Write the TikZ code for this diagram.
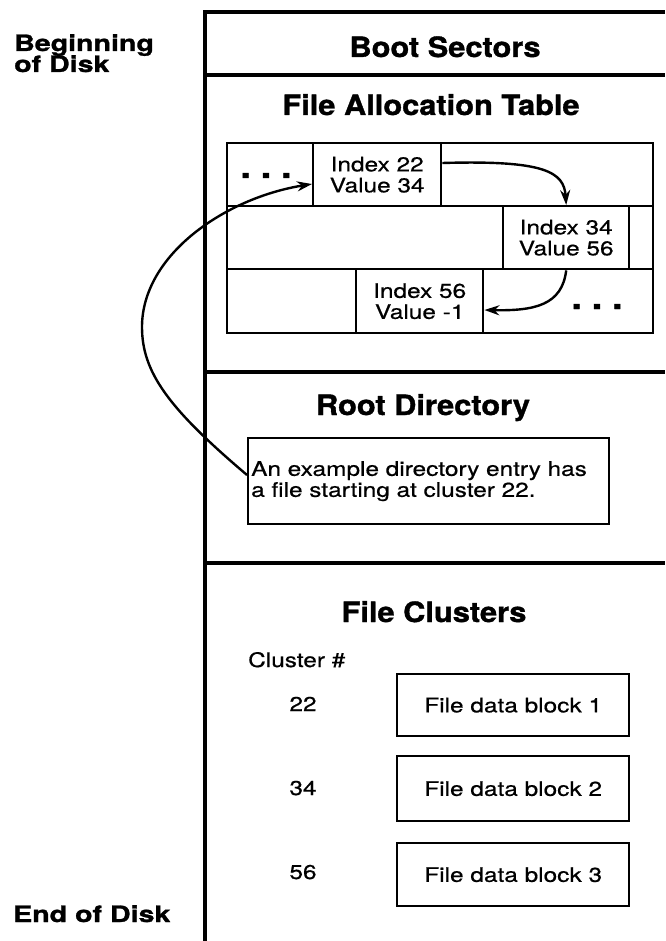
\documentclass[tikz,border=0pt]{standalone}
\usepackage{fontspec}
\setmainfont{TeX Gyre Heros}
\newfontfamily\headfont[FakeStretch=1.1,FakeBold=1.2]{TeX Gyre Heros}
\newfontfamily\bodyfont[FakeStretch=1.22,FakeBold=0.6]{TeX Gyre Heros}
\newfontfamily\sidefont[FakeStretch=1.27,FakeBold=1.2]{TeX Gyre Heros}
\usetikzlibrary{arrows.meta,calc}
\tikzset{
  frame/.style={line width=4pt},
  divider/.style={line width=3.2pt},
  heading/.style={font=\headfont\bfseries\fontsize{28}{30}\selectfont, inner sep=0pt, anchor=base},
  sidelabel/.style={font=\sidefont\bfseries\fontsize{22.5}{24}\selectfont, inner sep=0pt, anchor=base west},
  body/.style={font=\bodyfont\fontsize{20}{21}\selectfont},
  cell/.style={draw, line width=2.4pt, anchor=north west, inner sep=0pt, body, align=center},
  dots/.style={font=\headfont\bfseries\fontsize{34}{34}\selectfont, inner sep=0pt, anchor=base},
  datablock/.style={draw, line width=2.4pt, anchor=north west, inner sep=0pt, minimum width=232pt, body},
  plain/.style={body, inner sep=0pt, anchor=base},
  arr/.style={line width=2.4pt, -{Stealth[length=15pt,width=10pt]}},
}
\begin{document}
\begin{tikzpicture}[x=1pt,y=-1pt]
\useasboundingbox (0,0) rectangle (665,941);
% frame
\draw[frame] (205,941) -- (205,12) -- (665,12);
\draw[divider] (205,75) -- (665,75);
\draw[divider] (205,372) -- (665,372);
\draw[divider] (205,563) -- (665,563);
% side labels
\node[sidelabel] (beg1) at (14,51) {Beginning};
\node[sidelabel] (beg2) at (14,72) {of Disk};
\node[sidelabel] (endd) at (13,922) {End of Disk};
% headings
\node[heading] (boot) at (445,57) {Boot Sectors};
\node[heading] (fat) at (431,115) {File Allocation Table};
\node[heading] (root) at (423,415) {Root Directory};
\node[heading] (clus) at (434,622) {File Clusters};
% FAT grid
\node[cell, minimum width=86pt, minimum height=63pt] (r1a) at (226,142) {};
\node[cell, minimum width=128pt, minimum height=63pt] (r1b) at (312,142) {Index 22\\Value 34};
\node[cell, minimum width=212pt, minimum height=63pt] (r1c) at (440,142) {};
\node[cell, minimum width=276pt, minimum height=63pt] (r2a) at (226,205) {};
\node[cell, minimum width=126pt, minimum height=63pt] (r2b) at (502,205) {Index 34\\Value 56};
\node[cell, minimum width=24pt, minimum height=63pt] (r2c) at (628,205) {};
\node[cell, minimum width=129pt, minimum height=64pt] (r3a) at (226,268) {};
\node[cell, minimum width=127pt, minimum height=64pt] (r3b) at (355,268) {Index 56\\Value -1};
\node[cell, minimum width=170pt, minimum height=64pt] (r3c) at (482,268) {};
\node[dots] (d1) at (266,178) {.\kern10pt.\kern10pt.};
\node[dots] (d2) at (597,309) {.\kern10pt.\kern10pt.};
% FAT chain arrows
\draw[arr] ($(r1b.north east)+(0,21)$) .. controls (545,160) and (564,172) .. (r2b.north);
\draw[arr] (r2b.south) .. controls (562,305) and (535,311) .. ($(r3b.north east)+(0,42)$);
% root directory entry
\node[draw, line width=2.4pt, anchor=north west, minimum width=361pt, minimum height=86pt,
      text width=355pt, inner xsep=3pt, inner ysep=0pt, align=left, body] (entry) at (247,437)
      {An example directory entry has\\a file starting at cluster 22.};
\coordinate (entrystart) at ($(entry.north west)+(0,38)$);
\draw[arr] (entrystart) .. controls (168,408) and (142,372) .. (142,327)
   .. controls (142,255) and (225,198) .. ($(r1b.north west)+(0,42)$);
% file clusters
\node[plain, anchor=base west] (chash) at (248,667) {Cluster \#};
\node[plain] (n22) at (303,711) {22};
\node[plain] (n34) at (303,795) {34};
\node[plain] (n56) at (303,879) {56};
\node[datablock, minimum height=62pt] (b1) at (396,673) {File data block 1};
\node[datablock, minimum height=65pt] (b2) at (396,755) {File data block 2};
\node[datablock, minimum height=63pt] (b3) at (396,842) {File data block 3};
\end{tikzpicture}
\end{document}
